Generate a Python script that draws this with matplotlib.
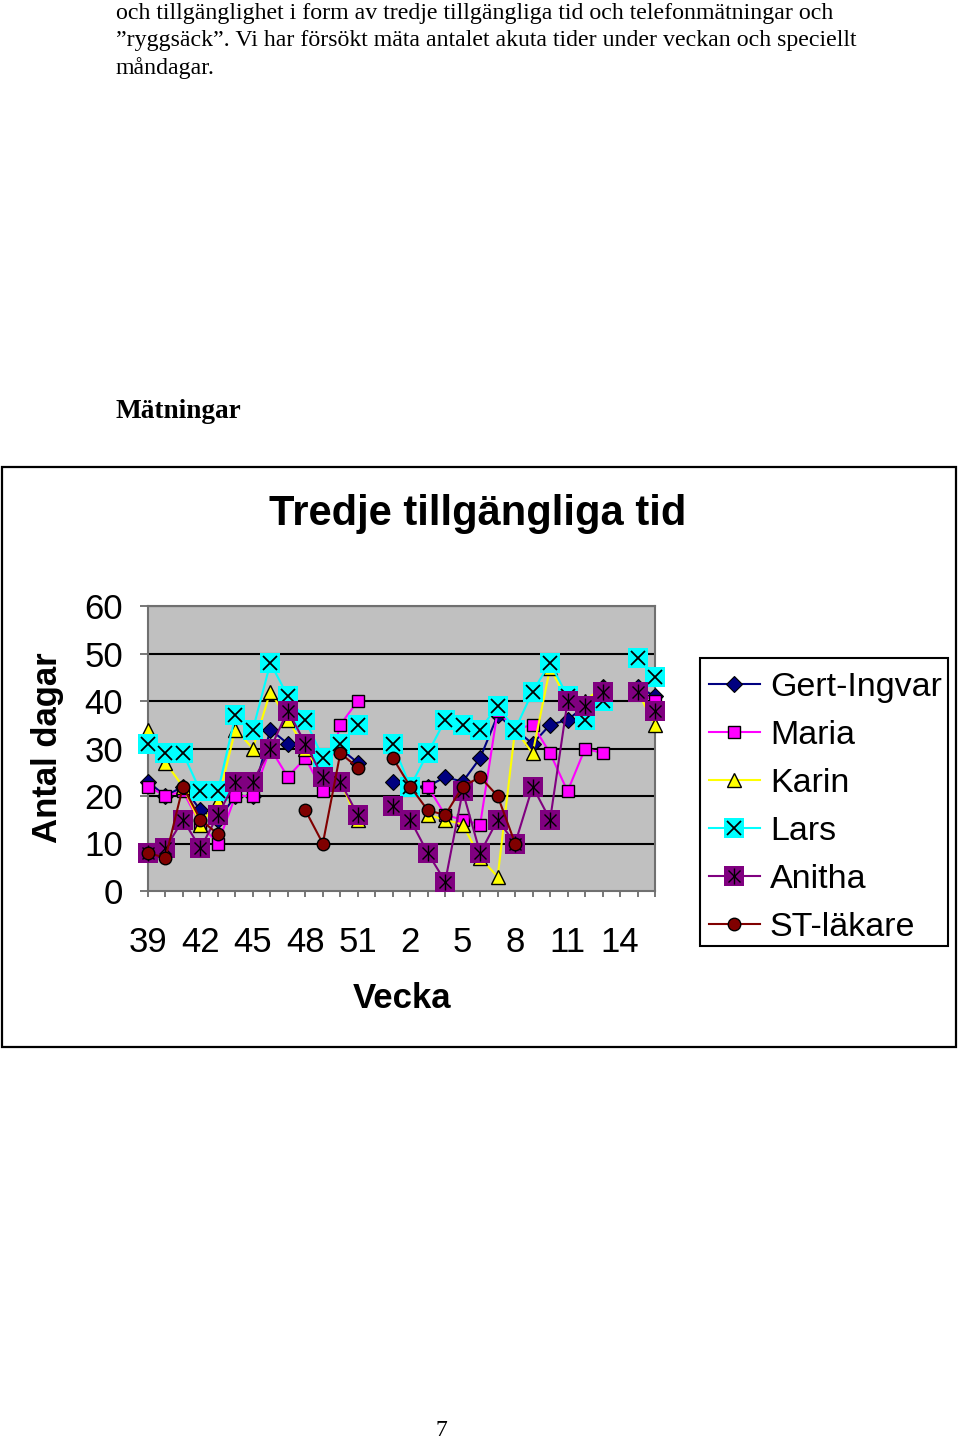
import numpy as np
import matplotlib
matplotlib.use("Agg")
import matplotlib.pyplot as plt
from matplotlib.patches import Rectangle
from matplotlib.legend_handler import HandlerTuple

nan = np.nan
weeks = [39, 40, 41, 42, 43, 44, 45, 46, 47, 48, 49, 50, 51, 52,
         1, 2, 3, 4, 5, 6, 7, 8, 9, 10, 11, 12, 13, 14, 15, 16]
gert = [23, 20, 22, 17, 15, 20, 20, 34, 31, 31, 28, 30, 27, nan,
        23, 22, 22, 24, 23, 28, 37, 34, 31, 35, 36, 39, 43, nan, 43, 41]
maria = [22, 20, 21, 14, 10, 20, 20, 30, 24, 28, 21, 35, 40, nan,
         nan, nan, 22, 16, 15, 14, 38, 34, 35, 29, 21, 30, 29, nan, 42, 40]
karin = [34, 27, 22, 14, 19, 34, 30, 42, 36, 30, 24, 23, 15, nan,
         nan, nan, 16, 15, 14, 7, 3, 34, 29, 47, 40, 40, 43, nan, 42, 35]
lars = [31, 29, 29, 21, 21, 37, 34, 48, 41, 36, 28, 31, 35, nan,
        31, 22, 29, 36, 35, 34, 39, 34, 42, 48, 41, 36, 40, nan, 49, 45]
anitha = [8, 9, 15, 9, 16, 23, 23, 30, 38, 31, 24, 23, 16, nan,
          18, 15, 8, 2, 21, 8, 15, 10, 22, 15, 40, 39, 42, nan, 42, 38]
st = [8, 7, 22, 15, 12, nan, nan, nan, nan, 17, 10, 29, 26, nan,
      28, 22, 17, 16, 22, 24, 20, 10, nan, nan, nan, nan, nan, nan, nan, nan]
names = ["Gert-Ingvar", "Maria", "Karin", "Lars", "Anitha", "ST-läkare"]
yticks = [0, 10, 20, 30, 40, 50, 60]

W, H = 960, 1440
fig = plt.figure(figsize=(9.6, 14.4), dpi=100)
fig.patch.set_facecolor("white")

serif = "Liberation Serif"
sans = "Liberation Sans"

# Body text
body = ["och tillgänglighet i form av tredje tillgängliga tid och telefonmätningar och",
        "”ryggsäck”. Vi har försökt mäta antalet akuta tider under veckan och speciellt",
        "måndagar."]
for i, line in enumerate(body):
    fig.text(116 / W, 1 - (13 + 27.5 * i) / H, line, family=serif, fontsize=17.2,
             va="center", ha="left")
fig.text(116 / W, 1 - 411 / H, "Mätningar", family=serif, fontsize=19.6,
         fontweight="bold", va="center", ha="left")
fig.text(441 / W, 1 - 1430 / H, "7", family=serif, fontsize=17, va="center", ha="center")

# Chart frame
fig.patches.append(Rectangle((2 / W, 1 - 1047 / H), (956 - 2) / W, (1047 - 467) / H,
                             transform=fig.transFigure, fill=False, edgecolor="black",
                             linewidth=1.6))
# Legend box
fig.patches.append(Rectangle((700 / W, 1 - 946 / H), (948 - 700) / W, (946 - 658) / H,
                             transform=fig.transFigure, facecolor="white",
                             edgecolor="black", linewidth=1.5, zorder=0.5))

fig.text(478 / W, 1 - 514 / H, "Tredje tillgängliga tid", family=sans, fontsize=30,
         fontweight="bold", ha="center", va="center")

x0, x1, y0, y1 = 148, 655, 606, 891
ax = fig.add_axes([x0 / W, 1 - y1 / H, (x1 - x0) / W, (y1 - y0) / H])
ax.set_facecolor("#C0C0C0")
x = np.arange(len(weeks))
ax.set_xlim(0, len(weeks) - 1)
ax.set_ylim(0, 60)
ax.set_yticks(yticks)
ax.set_yticklabels([str(v) for v in yticks], family=sans, fontsize=25)
ax.set_xticks(x)
ax.set_xticklabels([str(w) if i % 3 == 0 else "" for i, w in enumerate(weeks)],
                   family=sans, fontsize=25)
ax.tick_params(axis="y", length=6, width=1.2, color="#606060", pad=12)
ax.tick_params(axis="x", length=4, width=1.2, color="#606060", pad=21)
for s in ax.spines.values():
    s.set_color("#707070")
    s.set_linewidth(1.5)
for v in yticks[1:]:
    ax.axhline(v, color="black", linewidth=1.5, zorder=1)

lw = 1.5
handles = []
z = 3
# Gert-Ingvar
l, = ax.plot(x, gert, color="#000080", lw=lw, marker="D", ms=8, mfc="#000080",
             mec="black", mew=0.8, zorder=z, clip_on=False)
handles.append(l)
z += 1
# Maria
l, = ax.plot(x, maria, color="#FF00FF", lw=lw, marker="s", ms=9, mfc="#FF00FF",
             mec="black", mew=1.0, zorder=z, clip_on=False)
handles.append(l)
z += 1
# Karin
l, = ax.plot(x, karin, color="#FFFF00", lw=lw, marker="^", ms=10, mfc="#FFFF00",
             mec="black", mew=1.0, zorder=z, clip_on=False)
handles.append(l)
z += 1
# Lars
l1, = ax.plot(x, lars, color="#00FFFF", lw=lw, marker="s", ms=14, mfc="#00FFFF",
              mec="#00FFFF", mew=0, zorder=z, clip_on=False)
l2, = ax.plot(x, lars, ls="none", marker="x", ms=10, mec="black", mew=1.3,
              zorder=z + 0.5, clip_on=False)
handles.append((l1, l2))
z += 1
# Anitha
l1, = ax.plot(x, anitha, color="#800080", lw=lw, marker="s", ms=14, mfc="#800080",
              mec="#800080", mew=0, zorder=z, clip_on=False)
l2, = ax.plot(x, anitha, ls="none", marker="x", ms=9, mec="black", mew=1.0,
              zorder=z + 0.5, clip_on=False)
l3, = ax.plot(x, anitha, ls="none", marker="|", ms=11, mec="black", mew=1.0,
              zorder=z + 0.5, clip_on=False)
handles.append((l1, l2, l3))
z += 1
# ST-läkare
l, = ax.plot(x, st, color="#800000", lw=lw, marker="o", ms=9, mfc="#800000",
             mec="black", mew=1.0, zorder=z, clip_on=False)
handles.append(l)

fig.text(402 / W, 1 - 998 / H, "Vecka", family=sans, fontsize=25, fontweight="bold",
         ha="center", va="center")
fig.text(48 / W, 1 - 748 / H, "Antal dagar", family=sans, fontsize=25,
         fontweight="bold", ha="center", va="center", rotation=90)

leg = fig.legend(handles, names, loc="upper left",
                 bbox_to_anchor=(700 / W, 1 - 663 / H), bbox_transform=fig.transFigure,
                 prop={"family": sans, "size": 24.5}, numpoints=1,
                 handler_map={tuple: HandlerTuple(ndivide=1, pad=0)},
                 frameon=False,
                 handlelength=1.5, handletextpad=0.3, labelspacing=0.5,
                 borderpad=0.25, borderaxespad=0)

fig.savefig("out.png", dpi=100)
